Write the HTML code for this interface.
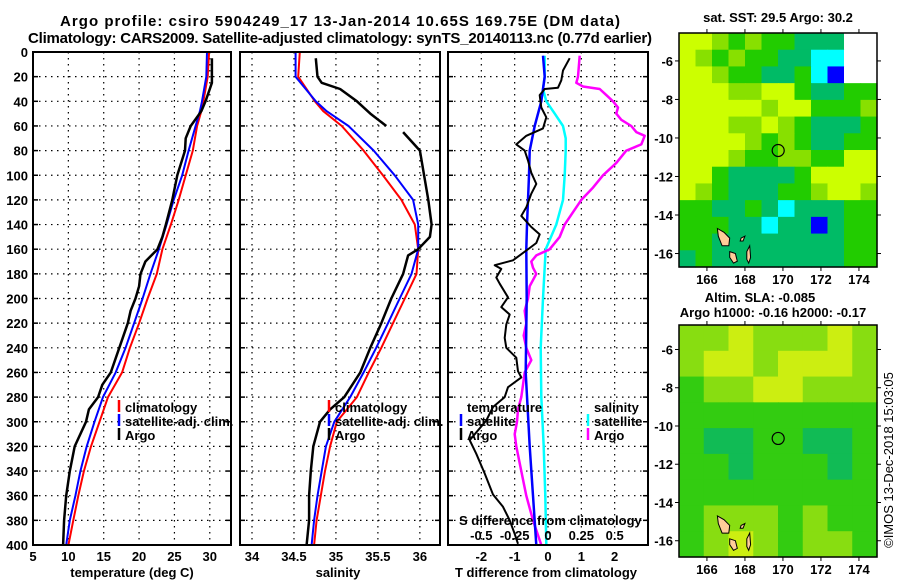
<!DOCTYPE html>
<html><head><meta charset="utf-8"><title>Argo profile</title>
<style>
html,body{margin:0;padding:0;background:#fff;}
svg{display:block;font-family:"Liberation Sans",Arial,sans-serif;}
.b{font-weight:bold;font-size:13px;}
</style></head>
<body>
<svg id="fig" width="900" height="580" viewBox="0 0 900 580" xmlns="http://www.w3.org/2000/svg">
<text x="340" y="26" text-anchor="middle" class="b" style="font-size:15px" textLength="560">Argo profile: csiro 5904249_17 13-Jan-2014 10.65S 169.75E (DM data)</text>
<text x="340" y="43" text-anchor="middle" class="b" style="font-size:15px" textLength="624">Climatology: CARS2009. Satellite-adjusted climatology: synTS_20140113.nc (0.77d earlier)</text>
<g id="plots"></g>
<text x="778" y="22" text-anchor="middle" class="b">sat. SST: 29.5 Argo: 30.2</text>
<text x="760" y="302" text-anchor="middle" class="b">Altim. SLA: -0.085</text>
<text x="773" y="317" text-anchor="middle" class="b">Argo h1000: -0.16 h2000: -0.17</text>
<text transform="translate(893,460) rotate(-90)" text-anchor="middle" style="font-size:13px">©IMOS 13-Dec-2018 15:03:05</text>
</svg>
<script>
// ---------- data ----------
const depthClim = [0,20,40,48,60,80,100,120,140,160,180,200,220,240,260,280,300,320,340,360,380,400];
const tempClim  = [29.9,29.7,29.1,28.8,28.2,27.6,26.6,25.6,24.5,23.3,22.5,21.2,20.0,18.7,17.6,15.6,14.4,13.2,12.2,11.4,10.7,10.0];
const tempSat   = [29.6,29.5,28.9,28.6,28.0,27.0,26.1,24.9,23.9,22.8,21.6,20.5,19.3,18.1,16.7,14.9,13.7,12.6,11.7,11.0,10.2,9.7];
const salClim   = [34.57,34.55,34.75,34.85,35.07,35.33,35.56,35.78,35.94,35.98,35.96,35.82,35.68,35.54,35.39,35.25,35.01,34.93,34.87,34.82,34.77,34.74];
const salSat    = [34.52,34.52,34.76,34.89,35.15,35.45,35.70,35.92,35.98,35.98,35.90,35.76,35.62,35.48,35.33,35.17,34.98,34.88,34.83,34.78,34.74,34.71];

const depthArgoT = [5,25,30,40,48,60,70,80,100,120,140,150,160,170,180,190,200,210,220,240,260,270,280,290,300,320,340,360,380,400];
const tempArgo   = [30.3,30.3,30.0,29.4,28.8,27.3,26.6,26.5,25.4,24.7,23.8,23.3,22.6,20.9,20.2,20.0,19.5,18.8,18.4,17.2,16.0,14.8,14.2,12.9,12.5,10.9,10.2,9.7,9.4,9.25];

const depthArgoS1 = [5,20,25,30,40,50,60];
const salArgo1    = [34.76,34.78,34.83,35.05,35.25,35.41,35.60];
const depthArgoS2 = [65,80,100,120,140,150,160,165,180,200,220,240,260,280,290,300,320,340,360,380,400];
const salArgo2    = [35.80,36.00,36.05,36.10,36.14,36.12,35.98,35.86,35.80,35.66,35.54,35.41,35.29,35.10,34.93,34.81,34.73,34.70,34.68,34.68,34.65];

const depthDiffT = [5,15,23,29,30,35,45,53,62,68,75,80,88,98,107,115,126,133,142,148,155,159,169,173,176,183,188,199,207,213,221,232,240,248,259,264,272,280,288,299,315,326,342,359,369,380,391,399];
const diffTArgo  = [0.65,0.45,0.4,0.3,-0.1,-0.25,-0.2,-0.05,-0.15,-0.65,-0.95,-0.7,-0.6,-0.5,-0.35,-0.5,-0.65,-0.8,-0.5,-0.25,-0.35,-0.55,-1.05,-1.6,-1.4,-1.55,-1.45,-1.2,-1.4,-1.15,-1.25,-1.3,-1.25,-0.95,-0.9,-0.8,-1.2,-1.3,-1.65,-1.85,-2.35,-2.15,-1.9,-1.65,-1.35,-1.15,-1.0,-0.9];
const depthDiffSat = [3,20,40,60,80,100,120,140,160,200,260,320,360,400];
const diffTSat   = [-0.15,-0.1,-0.2,-0.4,-0.55,-0.57,-0.6,-0.63,-0.65,-0.64,-0.67,-0.55,-0.45,-0.35];
const depthDiffSSat = [3,20,30,40,50,60,70,80,100,120,140,160,200,240,280,320,360,400];
const diffSSat   = [-0.025,-0.025,-0.0375,-0.0125,0.05,0.1125,0.1325,0.1325,0.125,0.1125,0.0625,-0.0175,-0.0375,-0.055,-0.05,-0.0325,-0.02,-0.0125];
const depthDiffSArgo = [3,20,25,28,30,35,40,45,50,55,60,65,68,75,80,90,100,110,120,130,140,150,160,165,170,175,180,190,200,210,220,230,240,250,260,270,280,290,300,310,320,340,360,380,400];
const diffSArgo  = [0.2375,0.225,0.2125,0.2625,0.3875,0.4375,0.4875,0.525,0.5125,0.55,0.625,0.6625,0.725,0.7,0.5875,0.5125,0.4125,0.3375,0.25,0.1875,0.125,0.0875,0.0125,-0.0875,-0.125,-0.1125,-0.0875,-0.1375,-0.15,-0.175,-0.1625,-0.1825,-0.1625,-0.125,-0.175,-0.1875,-0.2,-0.225,-0.2325,-0.25,-0.2375,-0.2,-0.1625,-0.1125,-0.05];

const depthTicks = [0,20,40,60,80,100,120,140,160,180,200,220,240,260,280,300,320,340,360,380,400];
const tempTicks = [5,10,15,20,25,30];
const salTicks = [34,34.5,35,35.5,36];
const salTickLabels = ['34','34.5','35','35.5','36'];
const diffTTicks = [-2,-1,0,1,2];
const diffSTicks = [-0.5,-0.25,0,0.25,0.5];
const diffSTickLabels = ['-0.5','-0.25','0','0.25','0.5'];
const lonTicks = [166,168,170,172,174];
const latTicks = [-6,-8,-10,-12,-14,-16];

const sstGrid = [
"YYLGLGGTTTWW",
"YLGLGGTTCCWW",
"YYLGGTTGCBWW",
"YYYLLYYGTTGG",
"YYYYYLYYGGGL",
"YYYLLYLGTTTG",
"YYYYLGLGTTGG",
"YYYLGGLLGGYY",
"YYGTTTTGYYYY",
"YLGTTTGGLYYL",
"GGTTGTCTTTGG",
"GGGTTCTTBTGG",
"GGTTTTTTTTGG",
"TGTTTTTTTTGG"];
const slaGrid = [
"LLYLLLYL",
"LYYLYYYL",
"GLLYYLLL",
"GGGGGGGG",
"GTTGGTTG",
"GGTGGGTG",
"GGGGGGGG",
"GLLLGLGG",
"GLYLGLLG"];
const argoLon = 169.75, argoLat = -10.65;
const islandLons = [[166.55,166.9,167.2,167.15,166.8,166.6],[167.2,167.5,167.6,167.4,167.2],[168.1,168.25,168.3,168.2,168.1],[167.8,168.0,167.9,167.75]];
const islandLats = [[-14.7,-14.9,-15.2,-15.6,-15.6,-15.1],[-15.9,-16.0,-16.4,-16.5,-16.2],[-15.9,-15.6,-16.2,-16.5,-16.3],[-15.2,-15.1,-15.35,-15.35]];

// ---------- helpers ----------
const NS = 'http://www.w3.org/2000/svg';
const root = document.getElementById('plots');
function mk(tag, attrs, parent){ const e=document.createElementNS(NS,tag); for(const k in attrs) e.setAttribute(k,attrs[k]); (parent||root).appendChild(e); return e; }
const Y0=52, Y1=545;
const yDepth = p => Y0 + (p/400)*(Y1-Y0);
function panelX(x0,x1,v0,v1){ return v => x0 + (v-v0)/(v1-v0)*(x1-x0); }

function frame(x0,x1,name){
  const g=mk('g',{});
  
  
  depthTicks.forEach(p=>{
    if(p===0||p===400) return;
    const y=yDepth(p);
    const l=mk('line',{x1:x0,x2:x1,y1:y,y2:y,stroke:'#000','stroke-width':1.2,'stroke-dasharray':'1.5 4.5'},g);
    
    
    mk('line',{x1:x1-5,x2:x1,y1:y,y2:y,stroke:'#000','stroke-width':1.5},g);
    mk('line',{x1:x0,x2:x0+5,y1:y,y2:y,stroke:'#000','stroke-width':1.5},g);
  });
  return g;
}
function vgrid(g,xs){ xs.forEach(x=>{ const l=mk('line',{x1:x,x2:x,y1:Y0,y2:Y1,stroke:'#000','stroke-width':1.2,'stroke-dasharray':'1.5 4.5'},g);
  
   }); }
function border(g,x0,x1){ const r=mk('rect',{x:x0,y:Y0,width:x1-x0,height:Y1-Y0,fill:'none',stroke:'#000','stroke-width':2},g);
  
   }
function line(g,xs,ys,fx,color,w,name){
  const pts=xs.map((v,i)=>fx(v).toFixed(1)+','+yDepth(ys[i]).toFixed(1)).join(' ');
  const pl=mk('polyline',{points:pts,fill:'none',stroke:color,'stroke-width':w,'stroke-linejoin':'round'},g);
  
  
}
function txt(g,x,y,s,anchor,name,extra){
  const t=mk('text',Object.assign({x:x,y:y,'text-anchor':anchor||'start','class':'b'},extra||{}),g); t.textContent=s;
  
  
  return t;
}
function legendMark(g,x,y,color){ mk('line',{x1:x,x2:x,y1:y-12,y2:y,stroke:color,'stroke-width':2.5},g); }

depthTicks.forEach(p=>{ txt(root,28,yDepth(p)+5,String(p),'end','depth-tick-label'); });

// ---------- panel 1: temperature ----------
{
  const x0=33,x1=231, fx=panelX(x0,x1,5,33);
  const g=frame(x0,x1,'temperature-panel');
  vgrid(g,tempTicks.slice(1).map(fx));
  line(g,tempClim,depthClim,fx,'#ff0000',2,'temp-climatology-line');
  line(g,tempSat,depthClim,fx,'#0000ff',2,'temp-satellite-line');
  line(g,tempArgo,depthArgoT,fx,'#000',2.5,'temp-argo-line');
  border(g,x0,x1);
  tempTicks.forEach(t=>txt(g,fx(t),561,String(t),'middle','temp-tick-label'));
  txt(g,132,577,'temperature (deg C)','middle','temp-axis-title');
  legendMark(g,119,412,'#ff0000'); txt(g,125,412,'climatology','start','legend-climatology');
  legendMark(g,119,426,'#0000ff'); txt(g,125,426,'satellite-adj. clim.','start','legend-satellite-adj');
  legendMark(g,119,440,'#000'); txt(g,125,440,'Argo','start','legend-argo');
}
// ---------- panel 2: salinity ----------
{
  const x0=240,x1=440, fx=panelX(x0,x1,33.857,36.24);
  const g=frame(x0,x1,'salinity-panel');
  vgrid(g,salTicks.map(fx));
  line(g,salClim,depthClim,fx,'#ff0000',2,'sal-climatology-line');
  line(g,salSat,depthClim,fx,'#0000ff',2,'sal-satellite-line');
  line(g,salArgo1,depthArgoS1,fx,'#000',2.5,'sal-argo-line-upper');
  line(g,salArgo2,depthArgoS2,fx,'#000',2.5,'sal-argo-line-lower');
  border(g,x0,x1);
  salTicks.forEach((s,i)=>txt(g,fx(s),561,salTickLabels[i],'middle','sal-tick-label'));
  txt(g,338,577,'salinity','middle','sal-axis-title');
  legendMark(g,329,412,'#ff0000'); txt(g,335,412,'climatology','start','legend-climatology');
  legendMark(g,329,426,'#0000ff'); txt(g,335,426,'satellite-adj. clim.','start','legend-satellite-adj');
  legendMark(g,329,440,'#000'); txt(g,335,440,'Argo','start','legend-argo');
}
// ---------- panel 3: differences ----------
{
  const x0=448,x1=648, fx=panelX(x0,x1,-3,3), fs=s=>fx(s*4);
  const g=frame(x0,x1,'difference-panel');
  vgrid(g,diffTTicks.map(fx));
  line(g,diffSSat,depthDiffSSat,fs,'#00ffff',2.5,'sal-diff-satellite-line');
  line(g,diffSArgo,depthDiffSArgo,fs,'#ff00ff',2.5,'sal-diff-argo-line');
  line(g,diffTSat,depthDiffSat,fx,'#0000ff',2.5,'temp-diff-satellite-line');
  line(g,diffTArgo,depthDiffT,fx,'#000',2,'temp-diff-argo-line');
  border(g,x0,x1);
  diffTTicks.forEach(t=>txt(g,fx(t),561,String(t),'middle','tdiff-tick-label'));
  txt(g,546,577,'T difference from climatology','middle','tdiff-axis-title');
  txt(g,459,525,'S difference from climatology','start','sdiff-axis-title');
  diffSTicks.forEach((s,i)=>txt(g,fs(s),540,diffSTickLabels[i],'middle','sdiff-tick-label'));
  txt(g,467,412,'temperature','start','legend-temperature-header');
  legendMark(g,461,426,'#0000ff'); txt(g,467,426,'satellite','start','legend-temp-satellite');
  legendMark(g,461,440,'#000'); txt(g,467,440,'Argo','start','legend-temp-argo');
  txt(g,594,412,'salinity','start','legend-salinity-header');
  legendMark(g,588,426,'#00ffff'); txt(g,594,426,'satellite','start','legend-sal-satellite');
  legendMark(g,588,440,'#ff00ff'); txt(g,594,440,'Argo','start','legend-sal-argo');
}
// ---------- maps ----------
const sstColors={Y:'#ccff00',L:'#88e000',G:'#22cc00',T:'#00bb66',C:'#00ffff',B:'#0000ff',W:'#ffffff'};
const slaColors={Y:'#ccee11',L:'#88dd11',G:'#33cc11',T:'#11bb55'};
function map(x0,x1,y0,y1,lat0,lat1,grid,colors,name,labelY){
  const g=mk('g',{});
  
  
  const fx=panelX(x0,x1,164.53,174.95), fy=v=>y0+(v-lat0)/(lat1-lat0)*(y1-y0);
  const rows=grid.length, cols=grid[0].length, cw=(x1-x0)/cols, ch=(y1-y0)/rows;
  grid.forEach((row,r)=>{ for(let c=0;c<cols;c++){ mk('rect',{x:(x0+c*cw).toFixed(2),y:(y0+r*ch).toFixed(2),width:(cw+0.6).toFixed(2),height:(ch+0.6).toFixed(2),fill:colors[row[c]]},g);} });
  islandLons.forEach((lons,i)=>{
    const pts=lons.map((lo,j)=>fx(lo).toFixed(1)+','+fy(islandLats[i][j]).toFixed(1)).join(' ');
    const p=mk('polygon',{points:pts,fill:'#ffcc99',stroke:'#000','stroke-width':1},g);
    
    
  });
  const c=mk('circle',{cx:fx(argoLon),cy:fy(argoLat),r:6,fill:'none',stroke:'#000','stroke-width':1.2},g);
  
  
  const b=mk('rect',{x:x0,y:y0,width:x1-x0,height:y1-y0,fill:'none',stroke:'#000','stroke-width':1.5},g);
  
  
  lonTicks.forEach(lo=>{ const x=fx(lo); mk('line',{x1:x,x2:x,y1:y0,y2:y0-4,stroke:'#000'},g); mk('line',{x1:x,x2:x,y1:y1,y2:y1+4,stroke:'#000'},g); txt(g,x,labelY,String(lo),'middle','lon-tick-label'); });
  latTicks.forEach(la=>{ const y=fy(la); mk('line',{x1:x0,x2:x0-4,y1:y,y2:y,stroke:'#000'},g); mk('line',{x1:x1,x2:x1+4,y1:y,y2:y,stroke:'#000'},g); txt(g,x0-6,y+5,String(la),'end','lat-tick-label'); });
}
map(679,877,33,267,-4.55,-16.7,sstGrid,sstColors,'sst-map',284);
map(679,877,325,557,-4.72,-16.85,slaGrid,slaColors,'sla-map',574);
</script>
</body></html>
